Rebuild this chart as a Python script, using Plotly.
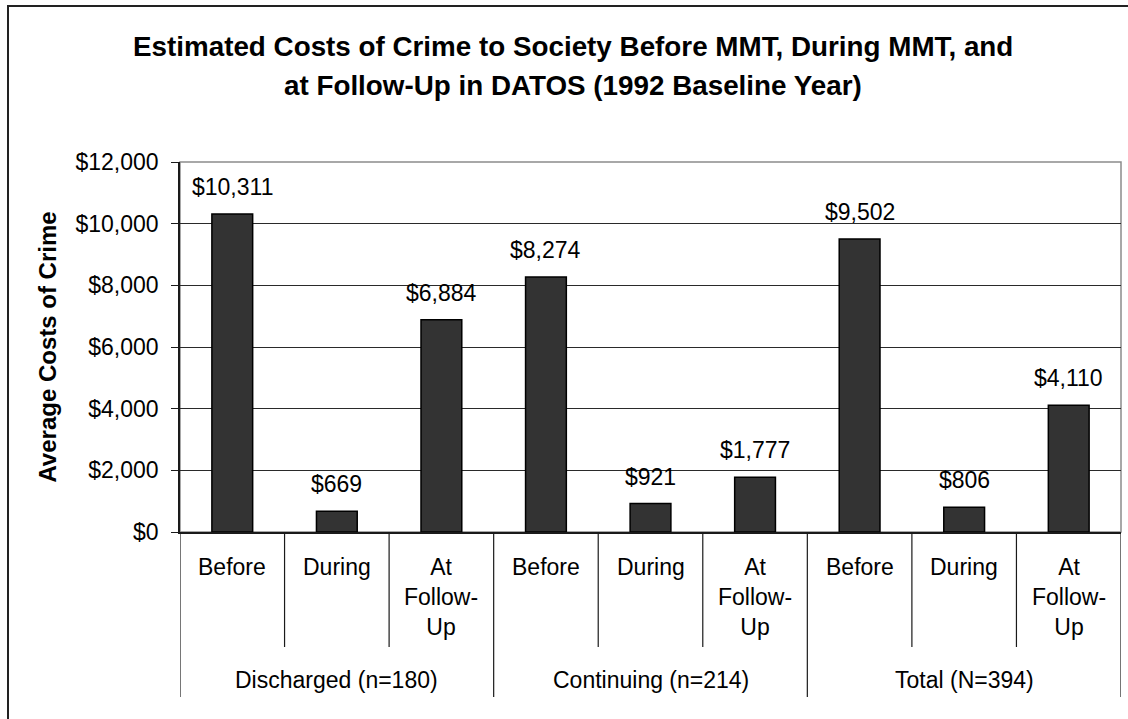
import plotly.graph_objects as go

# Data
groups = ["Discharged (n=180)", "Continuing (n=214)", "Total (N=394)"]
periods = ["Before", "During", "At<br>Follow-<br>Up"]
costs = [10311, 669, 6884, 8274, 921, 1777, 9502, 806, 4110]
y_ticks = [0, 2000, 4000, 6000, 8000, 10000, 12000]

title_lines = [
    "Estimated Costs of Crime to Society Before MMT, During MMT, and",
    "at Follow-Up in DATOS (1992 Baseline Year)",
]
y_title = "Average Costs of Crime"

FONT = "Liberation Sans, Arial, sans-serif"
n_per = len(periods)
n = len(costs)
xs = list(range(n))

# plot-area geometry in pixels (used to place decorations outside the axes)
PLOT_LEFT, PLOT_W, PLOT_H = 180, 941, 370

fig = go.Figure()
fig.add_trace(go.Bar(
    x=xs, y=costs,
    width=0.39,
    marker=dict(color="#333333", line=dict(color="#000000", width=1.5)),
    hoverinfo="skip",
    showlegend=False,
))

annotations = []
# value labels above bars
for x, v in zip(xs, costs):
    annotations.append(dict(
        x=x, y=v, xref="x", yref="y", text=f"${v:,}", showarrow=False,
        yanchor="bottom", yshift=12, font=dict(size=23, color="#000000", family=FONT),
    ))
# period labels
for i in range(n):
    annotations.append(dict(
        x=i, y=0, xref="x", yref="paper", text=periods[i % n_per], showarrow=False,
        yanchor="top", yshift=-20, font=dict(size=23, color="#000000", family=FONT),
    ))
# group labels
for g, name in enumerate(groups):
    annotations.append(dict(
        x=g * n_per + (n_per - 1) / 2, y=0, xref="x", yref="paper", text=name,
        showarrow=False, yanchor="middle", yshift=-148,
        font=dict(size=23, color="#000000", family=FONT),
    ))
# title lines
for k, line in enumerate(title_lines):
    annotations.append(dict(
        x=(573 - PLOT_LEFT) / PLOT_W, y=1, xref="paper", yref="paper",
        text=f"<b>{line}</b>", showarrow=False, xanchor="center",
        yanchor="middle", yshift=[116, 77][k],
        font=dict(size=27.8, color="#000000", family=FONT),
    ))

shapes = []
# plot area frame
shapes.append(dict(type="rect", xref="paper", yref="paper", x0=0, x1=1, y0=0, y1=1,
                   line=dict(color="#8c8c8c", width=1.5), layer="below"))
# dividers under the axis: short between periods, long between groups
for b in range(n + 1):
    is_group = b % n_per == 0
    depth = 165 if is_group else 115
    shapes.append(dict(type="line", xref="x", yref="paper", x0=b - 0.5, x1=b - 0.5,
                       y0=0, y1=-depth / PLOT_H,
                       line=dict(color="#1a1a1a", width=1.2)))
# outer chart border
shapes.append(dict(type="rect", xref="paper", yref="paper",
                   x0=(8 - PLOT_LEFT) / PLOT_W, x1=1.05,
                   y0=-200 / PLOT_H, y1=(532 - 6) / PLOT_H,
                   line=dict(color="#222222", width=2)))

fig.update_layout(
    width=1128, height=719,
    margin=dict(l=180, r=7, t=162, b=187),
    paper_bgcolor="#ffffff", plot_bgcolor="#ffffff",
    font=dict(family=FONT, size=23, color="#000000"),
    bargap=0.6,
    annotations=annotations,
    shapes=shapes,
    xaxis=dict(range=[-0.5, n - 0.5], showticklabels=False, showgrid=False,
               zeroline=False, showline=True, linecolor="#1a1a1a", linewidth=1.5,
               ticks=""),
    yaxis=dict(range=[0, 12000], tickvals=y_ticks,
               ticktext=[f"${t:,}" for t in y_ticks],
               showgrid=True, gridcolor="#2a2a2a", gridwidth=1,
               zeroline=False, showline=True, linecolor="#1a1a1a", linewidth=1.5,
               ticks="outside", ticklen=7, tickcolor="#1a1a1a", tickwidth=1,
               ticklabelstandoff=8,
               tickfont=dict(size=23, family=FONT, color="#000000"),
               title=dict(text=f"<b>{y_title}</b>", standoff=12,
                          font=dict(size=24, family=FONT, color="#000000"))),
)

fig.write_html("out.html")
